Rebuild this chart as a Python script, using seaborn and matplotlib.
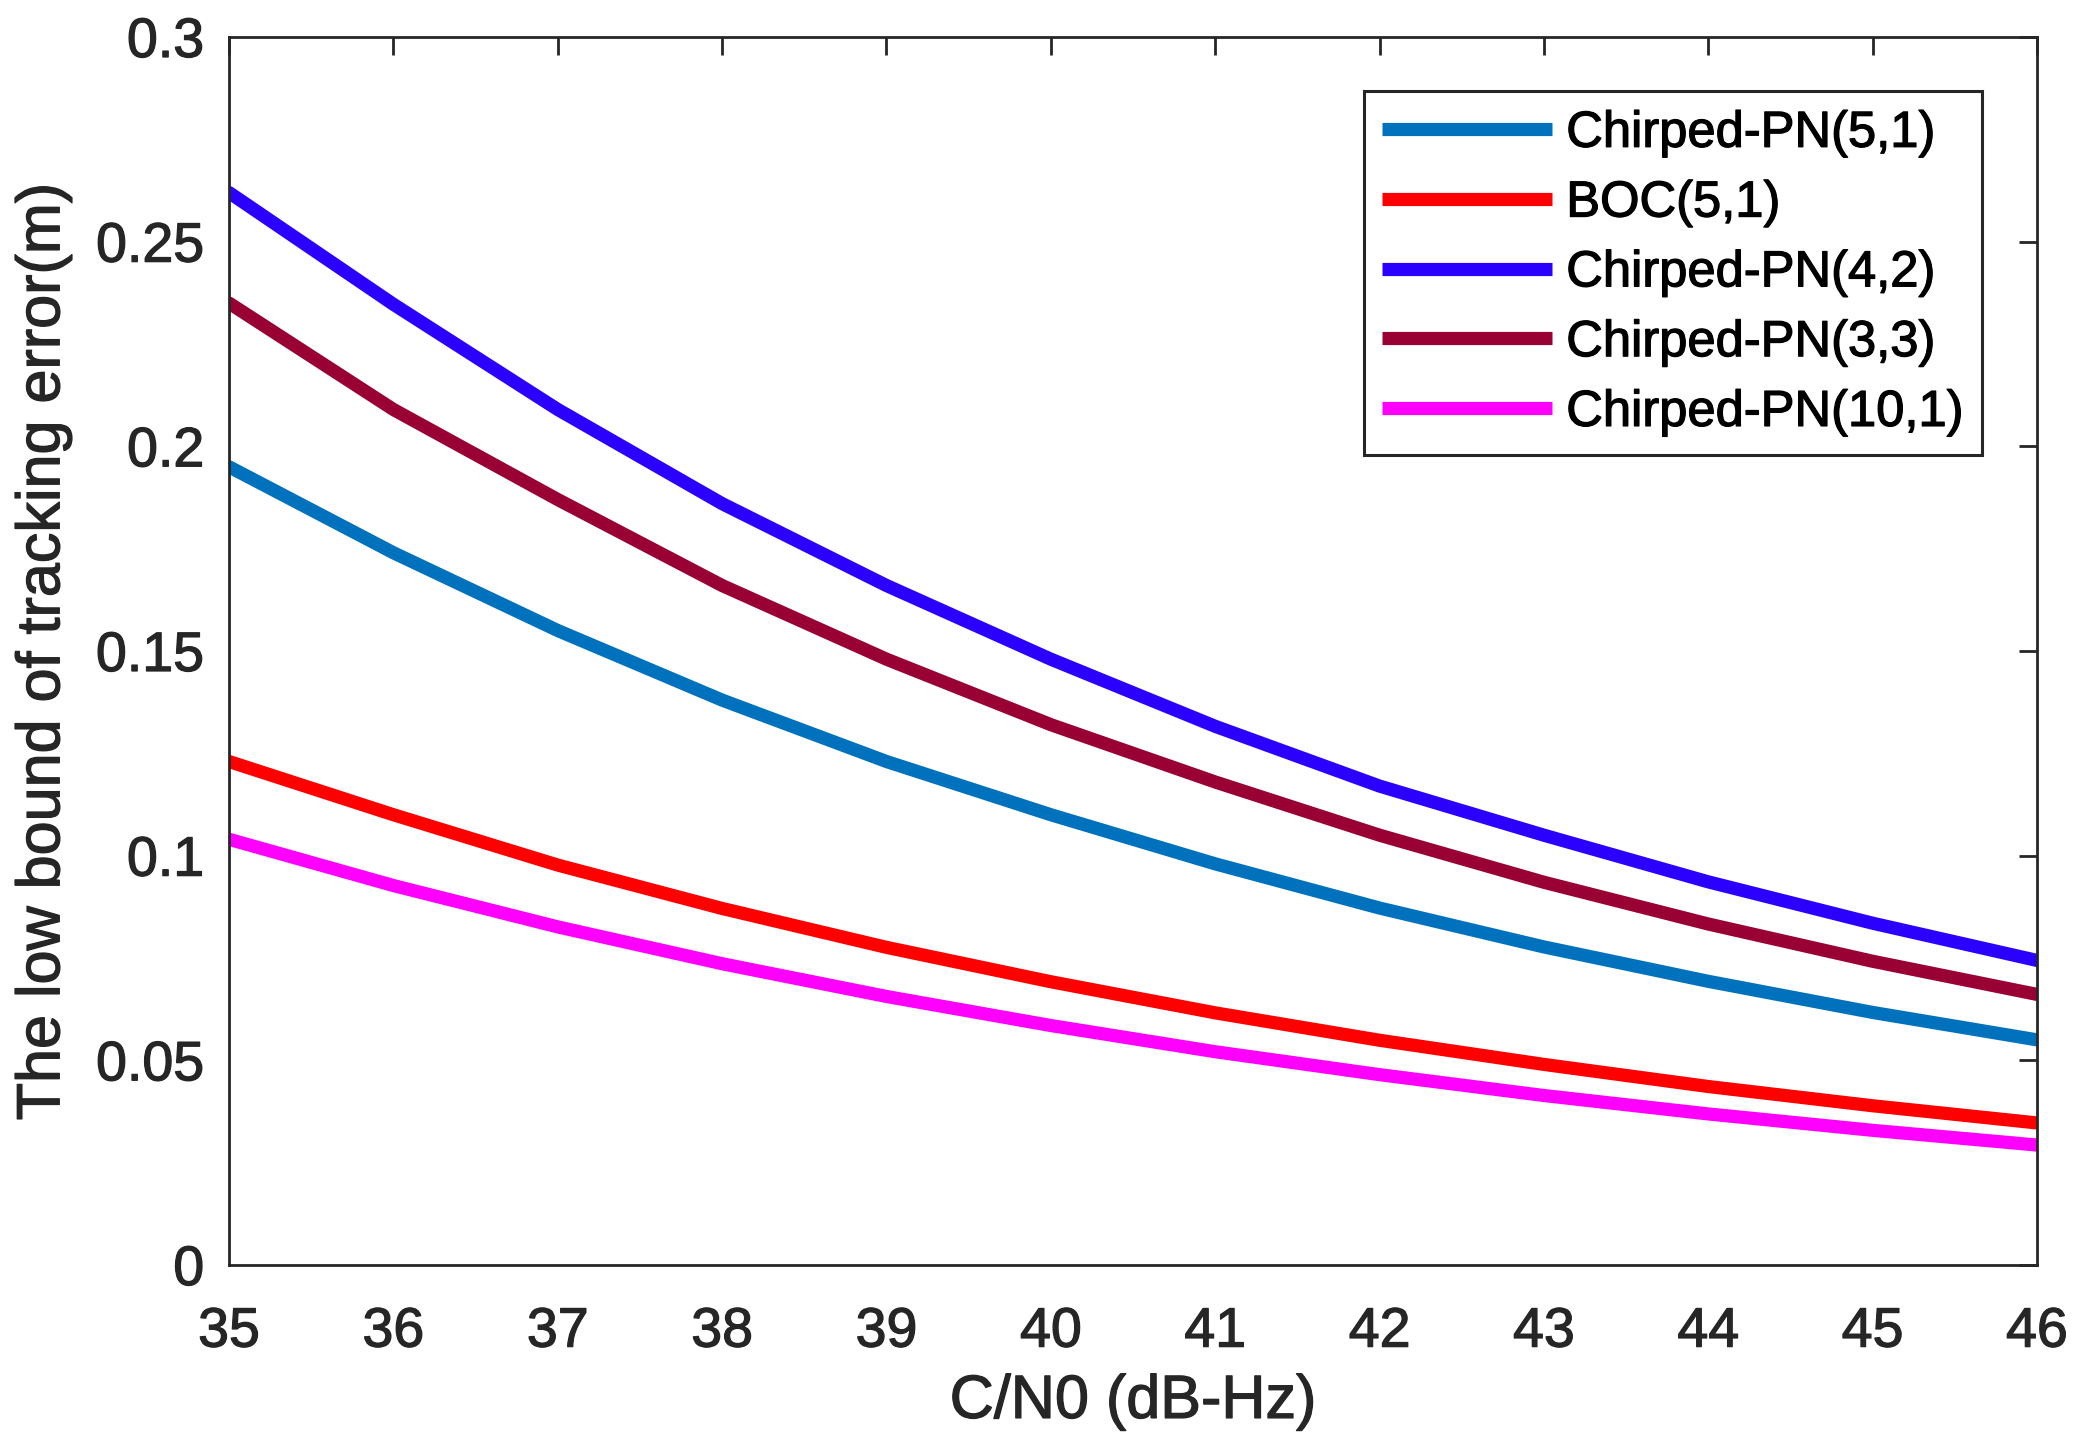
import numpy as np
import pandas as pd
import seaborn as sns
import matplotlib
matplotlib.use("Agg")
import matplotlib.pyplot as plt
import matplotlib.patheffects as pe

cn0 = [35, 36, 37, 38, 39, 40, 41, 42, 43, 44, 45, 46]
chirped_5_1 = [0.195, 0.174, 0.155, 0.138, 0.123, 0.110, 0.098, 0.0872, 0.0777, 0.0693, 0.0617, 0.055]
boc_5_1 = [0.123, 0.110, 0.0977, 0.0871, 0.0776, 0.0692, 0.0616, 0.0549, 0.0490, 0.0436, 0.0389, 0.0347]
chirped_4_2 = [0.262, 0.2347, 0.209, 0.186, 0.166, 0.148, 0.1316, 0.117, 0.105, 0.0936, 0.0835, 0.0744]
chirped_3_3 = [0.235, 0.209, 0.187, 0.166, 0.148, 0.132, 0.118, 0.105, 0.0935, 0.0833, 0.0742, 0.0661]
chirped_10_1 = [0.104, 0.0927, 0.0826, 0.0736, 0.0656, 0.0585, 0.0521, 0.0465, 0.0414, 0.0369, 0.0329, 0.0293]

labels = ["Chirped-PN(5,1)", "BOC(5,1)", "Chirped-PN(4,2)", "Chirped-PN(3,3)", "Chirped-PN(10,1)"]
series = [chirped_5_1, boc_5_1, chirped_4_2, chirped_3_3, chirped_10_1]
colors = ["#0072BD", "#FF0000", "#2B00FF", "#990033", "#FF00FF"]
yticks = [0, 0.05, 0.1, 0.15, 0.2, 0.25, 0.3]
ytick_labels = ["0", "0.05", "0.1", "0.15", "0.2", "0.25", "0.3"]

df = pd.concat([pd.DataFrame({"cn0": cn0, "err": s, "sig": l}) for s, l in zip(series, labels)])

sns.set_theme(style="white")
plt.rcParams['font.family'] = ['Liberation Sans', 'DejaVu Sans']

txt_col = "#262626"
thick = [pe.withStroke(linewidth=0.9, foreground=txt_col)]
thick_k = [pe.withStroke(linewidth=0.9, foreground="black")]

fig = plt.figure(figsize=(20.86, 14.51), dpi=100)
ax = fig.add_axes([0.1098, 0.1282, 0.8667, 0.8463])
sns.lineplot(data=df, x="cn0", y="err", hue="sig", hue_order=labels,
             palette=colors, linewidth=9.5, ax=ax)

ax.set_xlim(35, 46)
ax.set_ylim(0, 0.3)
ax.set_xticks(cn0)
ax.set_yticks(yticks)
ax.set_yticklabels(ytick_labels)
ax.tick_params(axis="both", which="both", direction="in", length=13, width=2,
               labelsize=40, colors=txt_col, top=True, right=True)
ax.tick_params(axis="x", pad=30)
ax.tick_params(axis="y", pad=18)
for lab in ax.get_xticklabels() + ax.get_yticklabels():
    lab.set_path_effects(thick)
for sp in ax.spines.values():
    sp.set_visible(True)
    sp.set_linewidth(2)
    sp.set_color(txt_col)
ax.set_xlabel("C/N0 (dB-Hz)", fontsize=44, color=txt_col, labelpad=11,
              path_effects=thick)
ax.set_ylabel("The low bound of tracking error(m)", fontsize=44, color=txt_col,
              labelpad=17, path_effects=thick)

leg = ax.legend(loc="upper right", bbox_to_anchor=(0.9696, 0.9564), borderaxespad=0,
                fontsize=36.5, handlelength=3.35, handletextpad=0.28, labelspacing=0.41,
                frameon=True, fancybox=False, edgecolor=txt_col, framealpha=1,
                borderpad=0.36)
leg.get_frame().set_linewidth(2.2)
for line in leg.get_lines():
    line.set_linewidth(9.5)
    line.set_solid_capstyle("butt")
for t in leg.get_texts():
    t.set_color("black")
    t.set_path_effects(thick_k)

fig.savefig("out.png", dpi=100)
